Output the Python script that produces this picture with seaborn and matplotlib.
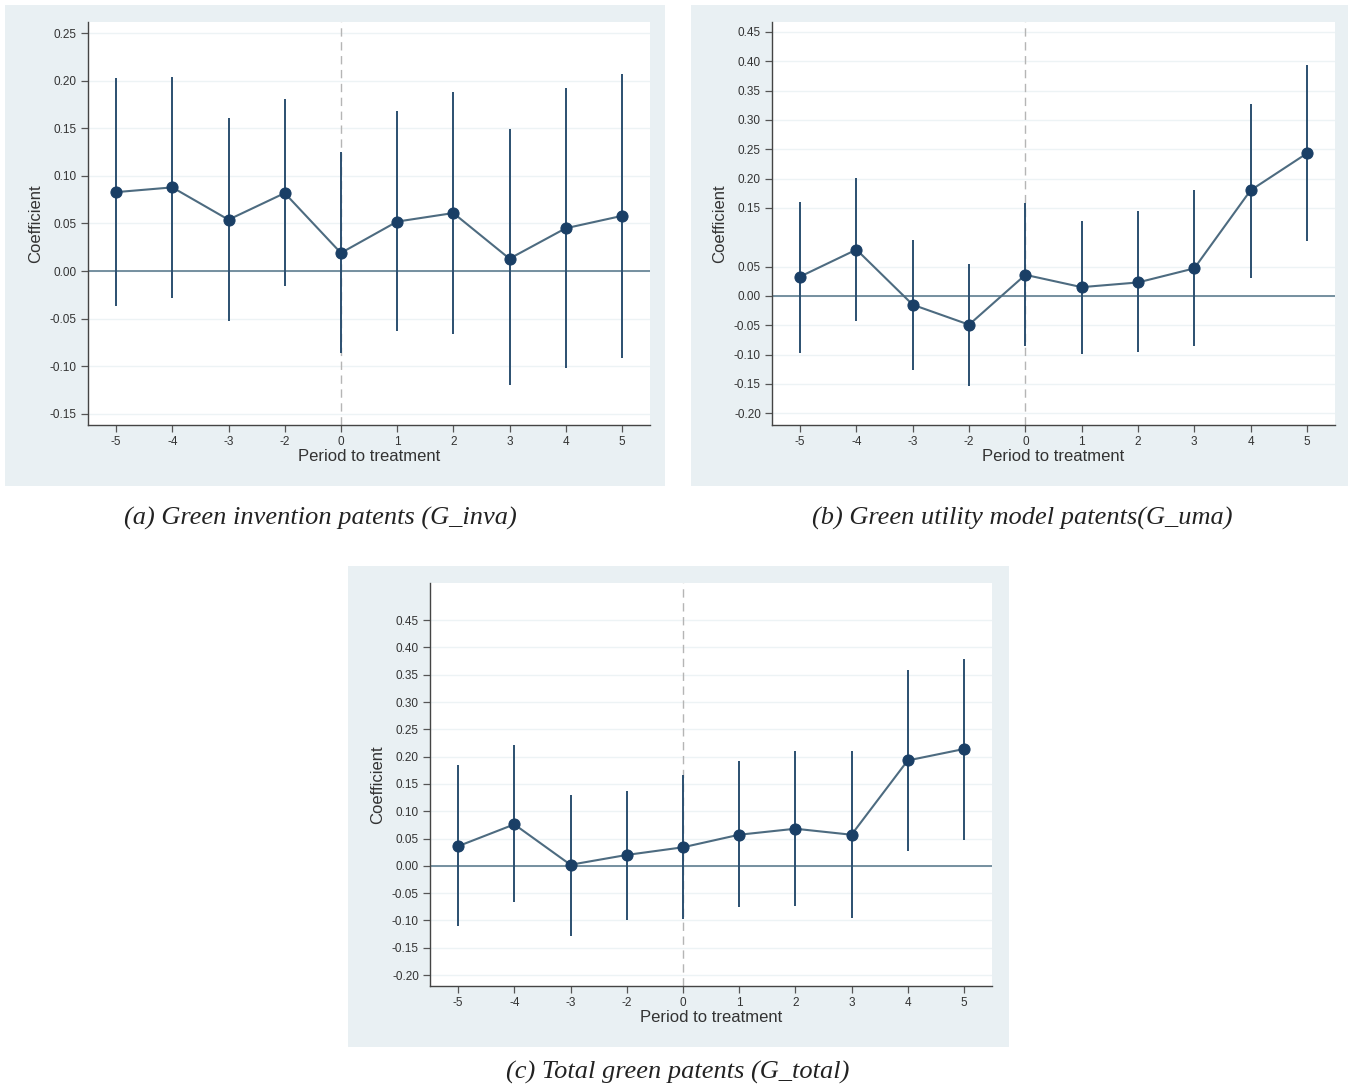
import numpy as np
import pandas as pd
import matplotlib
matplotlib.use('Agg')
from matplotlib import pyplot as plt
from matplotlib.patches import Rectangle
import seaborn as sns

periods = ['-5', '-4', '-3', '-2', '0', '1', '2', '3', '4', '5']

# (a) green invention patents
coef_a = [0.083, 0.088, 0.054, 0.082, 0.019, 0.052, 0.061, 0.013, 0.045, 0.058]
hi_a = [0.203, 0.204, 0.161, 0.181, 0.125, 0.168, 0.188, 0.149, 0.193, 0.207]
lo_a = [-0.037, -0.028, -0.053, -0.016, -0.086, -0.063, -0.066, -0.120, -0.102, -0.092]

# (b) green utility model patents
coef_b = [0.033, 0.079, -0.015, -0.049, 0.036, 0.015, 0.023, 0.047, 0.180, 0.243]
hi_b = [0.160, 0.201, 0.096, 0.054, 0.158, 0.128, 0.144, 0.180, 0.327, 0.393]
lo_b = [-0.097, -0.043, -0.127, -0.153, -0.086, -0.099, -0.095, -0.086, 0.031, 0.093]

# (c) total green patents
coef_c = [0.036, 0.076, 0.002, 0.020, 0.034, 0.057, 0.068, 0.057, 0.193, 0.214]
hi_c = [0.184, 0.221, 0.130, 0.138, 0.166, 0.192, 0.210, 0.210, 0.359, 0.378]
lo_c = [-0.110, -0.067, -0.129, -0.099, -0.097, -0.076, -0.073, -0.095, 0.027, 0.047]

ticks_a = [0.25, 0.20, 0.15, 0.10, 0.05, 0.00, -0.05, -0.10, -0.15]
ticks_b = [0.45, 0.40, 0.35, 0.30, 0.25, 0.20, 0.15, 0.05, 0.00, -0.05, -0.10, -0.15, -0.20]
ticks_c = [0.45, 0.40, 0.35, 0.30, 0.25, 0.20, 0.15, 0.10, 0.05, 0.00, -0.05, -0.10, -0.15, -0.20]

captions = ['(a) Green invention patents (G_inva)',
            '(b) Green utility model patents(G_uma)',
            '(c) Total green patents (G_total)']

sns.set_theme(style='white')
plt.rcParams['font.family'] = ['Liberation Sans', 'DejaVu Sans']

W, H = 1350, 1086
fig = plt.figure(figsize=(13.5, 10.86), dpi=100, facecolor='white')

bg = '#e9f0f3'
navy = '#1a3f66'
ci_col = '#2b4f70'
line_col = '#4d6b80'
zero_col = '#6a8798'


def px_box(x0, y0, x1, y1):
    return [x0 / W, 1 - y1 / H, (x1 - x0) / W, (y1 - y0) / H]


# panel backgrounds, kept behind the axes
for (x0, y0, x1, y1) in [(5, 5, 665, 486), (691, 5, 1348, 486), (348, 566, 1009, 1047)]:
    b = px_box(x0, y0, x1, y1)
    fig.patches.append(Rectangle((b[0], b[1]), b[2], b[3], transform=fig.transFigure,
                                 facecolor=bg, edgecolor='none', zorder=-5))

panels = [
    (px_box(88, 22, 650, 425), coef_a, hi_a, lo_a, ticks_a, (-0.162, 0.262)),
    (px_box(772, 22, 1335, 425), coef_b, hi_b, lo_b, ticks_b, (-0.22, 0.467)),
    (px_box(430, 583, 992, 986), coef_c, hi_c, lo_c, ticks_c, (-0.22, 0.518)),
]

for rect, coef, hi, lo, yt, ylim in panels:
    ax = fig.add_axes(rect)
    ax.set_facecolor('white')
    df = pd.DataFrame({'pos': np.arange(len(periods)), 'coef': coef, 'hi': hi, 'lo': lo})
    for v in yt:
        ax.axhline(v, color='#edf3f5', lw=1.0, zorder=0)
    ax.axvline(4, color='#b5b5b5', lw=1.0, ls=(0, (6, 4)), zorder=1)
    ax.axhline(0, color=zero_col, lw=1.3, zorder=1)
    ax.vlines(df['pos'], df['lo'], df['hi'], color=ci_col, lw=1.4, zorder=2)
    sns.lineplot(data=df, x='pos', y='coef', ax=ax, color=line_col, lw=1.5,
                 marker='o', markersize=8, markerfacecolor=navy,
                 markeredgecolor=navy, zorder=3)
    ax.set_xlim(-0.5, 9.5)
    ax.set_ylim(*ylim)
    ax.set_xticks(df['pos'])
    ax.set_xticklabels(periods)
    ax.set_yticks(yt)
    ax.set_yticklabels([f'{v:.2f}' for v in yt])
    ax.tick_params(axis='both', direction='out', length=5, width=0.9, color='#555555',
                   labelsize=8.5, labelcolor='#333333', left=True, bottom=True, pad=3)
    for s in ['top', 'right']:
        ax.spines[s].set_visible(False)
    for s in ['left', 'bottom']:
        ax.spines[s].set_color('#444444')
        ax.spines[s].set_linewidth(1.0)
    ax.set_xlabel('Period to treatment', fontsize=12, color='#333333', labelpad=1)
    ax.set_ylabel('Coefficient', fontsize=12, color='#333333', labelpad=5)

cap_pos = [(320, 518), (1022, 518), (678, 1072)]
for (cx, cy), txt in zip(cap_pos, captions):
    fig.text(cx / W, 1 - cy / H, txt, ha='center', va='center', fontsize=19,
             family='Liberation Serif', style='italic', color='#222222')

plt.savefig('out.png', dpi=100)
